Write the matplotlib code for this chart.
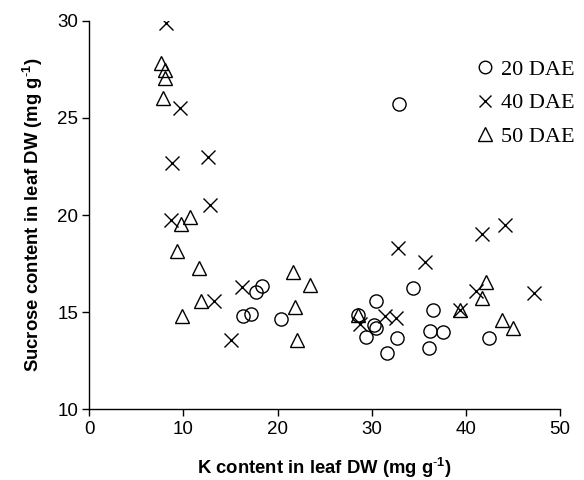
import matplotlib
matplotlib.use("Agg")
import matplotlib.pyplot as plt

# 20 DAE (circles)
k20 = [32.9, 16.3, 17.2, 17.7, 18.3, 20.35, 28.5, 29.4, 30.2, 30.5, 30.5,
       31.6, 32.7, 34.4, 36.1, 36.2, 36.5, 37.6, 42.5]
s20 = [25.7, 14.8, 14.9, 16.05, 16.35, 14.65, 14.85, 13.72, 14.35, 14.2, 15.6,
       12.9, 13.65, 16.25, 13.15, 14.05, 15.1, 14.0, 13.65]

# 40 DAE (crosses)
k40 = [8.1, 9.6, 8.8, 12.6, 12.8, 8.7, 13.2, 16.2, 15.0, 28.7, 31.4, 32.6,
       32.8, 35.7, 39.4, 41.1, 41.7, 44.2, 47.2]
s40 = [29.9, 25.5, 22.7, 23.0, 20.5, 19.75, 15.6, 16.3, 13.55, 14.4, 14.8, 14.7,
       18.3, 17.6, 15.1, 16.1, 19.0, 19.5, 16.0]

# 50 DAE (triangles)
k50 = [7.6, 8.0, 8.0, 7.8, 10.7, 9.7, 9.3, 11.7, 11.9, 9.8, 21.6, 23.4,
       21.8, 22.1, 28.5, 39.4, 42.1, 41.7, 43.8, 45.0]
s50 = [27.8, 27.45, 27.05, 26.0, 19.9, 19.55, 18.15, 17.3, 15.6, 14.8, 17.05, 16.4,
       15.25, 13.55, 14.85, 15.1, 16.55, 15.75, 14.6, 14.2]

labels = ["20 DAE", "40 DAE", "50 DAE"]
xticks = [0, 10, 20, 30, 40, 50]
yticks = [10, 15, 20, 25, 30]

plt.rcParams['font.family'] = ['Liberation Sans', 'DejaVu Sans']
plt.rcParams['mathtext.fontset'] = 'custom'
plt.rcParams['mathtext.rm'] = 'Liberation Sans'
plt.rcParams['mathtext.bf'] = 'Liberation Sans:bold'

fig = plt.figure(figsize=(5.84, 4.8), dpi=100)
ax = fig.add_axes([0.153, 0.147, 0.806, 0.81])

ax.plot(k20, s20, linestyle='none', marker='o', markersize=9.5,
        markerfacecolor='none', markeredgecolor='black', markeredgewidth=1.0, label=labels[0])
ax.plot(k40, s40, linestyle='none', marker='x', markersize=9.5,
        color='black', markeredgewidth=1.0, label=labels[1])
ax.plot(k50, s50, linestyle='none', marker='^', markersize=10,
        markerfacecolor='none', markeredgecolor='black', markeredgewidth=1.0, label=labels[2])

ax.set_xlim(0, 50)
ax.set_ylim(10, 30)
ax.set_xticks(xticks)
ax.set_yticks(yticks)
for s in ['top', 'right']:
    ax.spines[s].set_visible(False)
for s in ['left', 'bottom']:
    ax.spines[s].set_linewidth(1.0)
ax.tick_params(direction='out', length=5, width=1.0, labelsize=13.5, pad=3)

ax.set_xlabel(r'K content in leaf DW (mg g$^{\mathbf{\text{-}1}}$)', fontsize=13.3,
              fontweight='bold', labelpad=13)
ax.set_ylabel(r'Sucrose content in leaf DW (mg g$^{\mathbf{\text{-}1}}$)', fontsize=13.3,
              fontweight='bold', labelpad=9)

leg = ax.legend(loc='upper right', bbox_to_anchor=(1.073, 0.952), frameon=False,
                prop={'family': 'Liberation Serif', 'size': 16},
                handlelength=0.6, handletextpad=0.4, labelspacing=0.585,
                markerscale=0.95)

fig.savefig('out.png', dpi=100)
